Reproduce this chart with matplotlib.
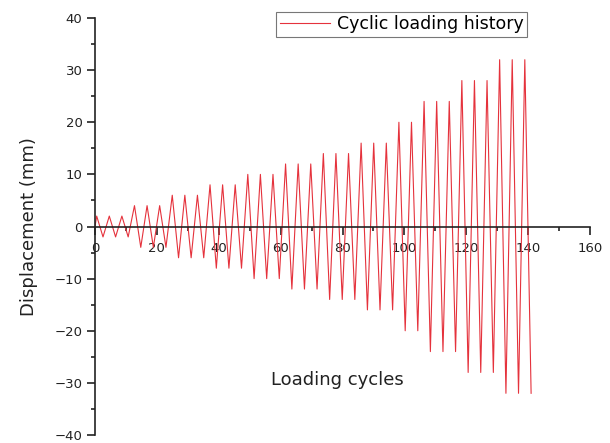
import matplotlib
matplotlib.use("Agg")
import matplotlib.pyplot as plt
import numpy as np

# Amplitude (mm) of each loading cycle
cycle_amplitudes = [2, 2, 2, 4, 4, 4, 6, 6, 6, 8, 8, 8, 10, 10, 10,
                    12, 12, 12, 14, 14, 14, 16, 16, 16, 20, 20,
                    24, 24, 24, 28, 28, 28, 32, 32, 32]
x_ticks = [0, 20, 40, 60, 80, 100, 120, 140, 160]
y_ticks = [-40, -30, -20, -10, 0, 10, 20, 30, 40]
first_peak_x = 0.55
half_cycle_len = 2.035

# Build displacement history: start at 0, then +A, -A for each cycle
disp = [0.0]
for a in cycle_amplitudes:
    disp += [a, -a]
xs = [0.0] + [first_peak_x + i * half_cycle_len for i in range(len(disp) - 1)]

plt.rcParams['font.family'] = ['DejaVu Sans']

fig = plt.figure(figsize=(6.10, 4.43), dpi=100)
ax = fig.add_axes([95 / 610, 1 - 435 / 443, 495 / 610, 417 / 443])

ax.plot(xs, disp, color='#e5323c', lw=0.8, label='Cyclic loading history')

ax.set_xlim(0, 160)
ax.set_ylim(-40, 40)
ax.set_xticks(x_ticks)
ax.set_yticks(y_ticks)
ax.set_xticks(np.arange(10, 160, 20), minor=True)
ax.set_yticks(np.arange(-35, 40, 10), minor=True)

for s in ['top', 'right']:
    ax.spines[s].set_visible(False)
ax.spines['bottom'].set_position(('data', 0))
for s in ['left', 'bottom']:
    ax.spines[s].set_linewidth(1.2)
    ax.spines[s].set_color('#222222')

ax.tick_params(axis='both', which='major', direction='out', length=6, width=1.2,
               colors='#222222', labelsize=9.5, pad=3)
ax.tick_params(axis='both', which='minor', direction='out', length=3, width=1.2,
               colors='#222222')
ax.tick_params(axis='x', which='major', pad=5)

ax.set_ylabel('Displacement (mm)', fontsize=13, color='#222222', labelpad=12)
ax.text(0.489, 0.132, 'Loading cycles', transform=ax.transAxes, fontsize=13,
        color='#222222', ha='center', va='center')

leg = ax.legend(loc='upper right', bbox_to_anchor=(0.873, 1.015), fontsize=12.5,
                frameon=True, fancybox=False, handlelength=2.9, handletextpad=0.4,
                borderpad=0.2, borderaxespad=0)
leg.get_frame().set_edgecolor('#555555')
leg.get_frame().set_linewidth(0.8)

fig.savefig('out.png', dpi=100)
